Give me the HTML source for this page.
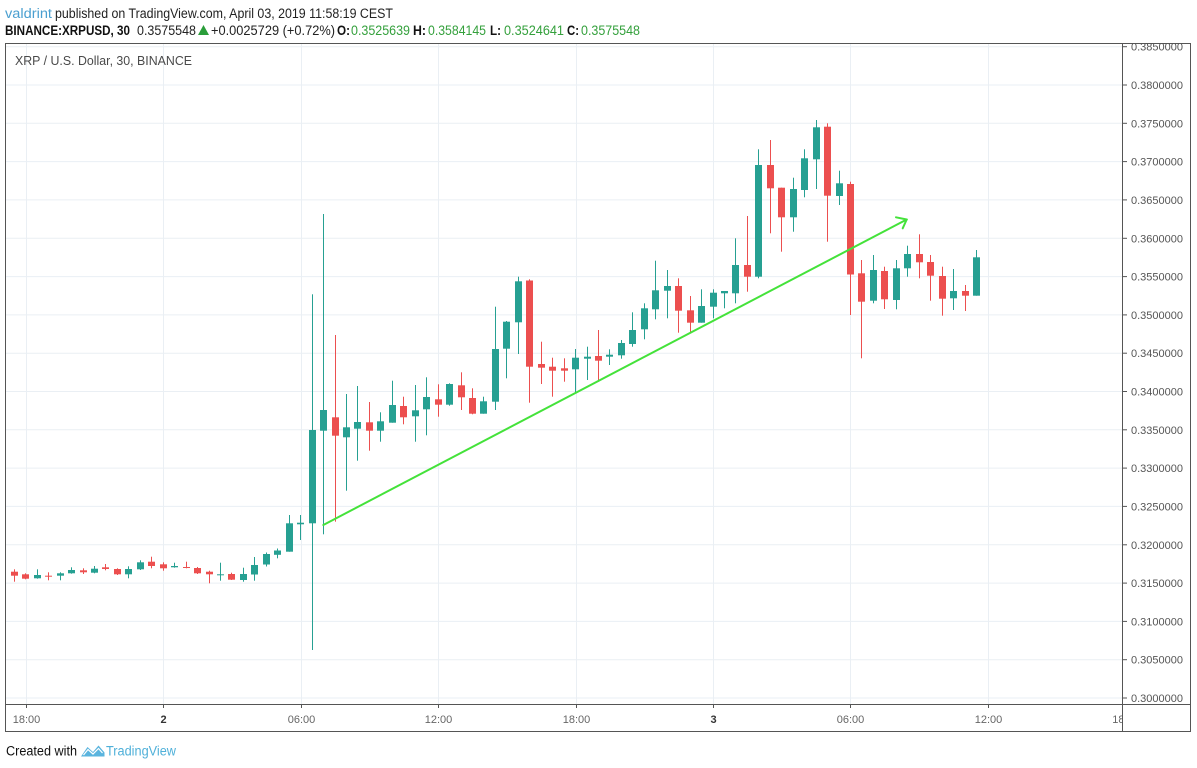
<!DOCTYPE html>
<html><head><meta charset="utf-8"><style>
html,body{margin:0;padding:0;background:#fff;}
svg{display:block;font-family:"Liberation Sans",sans-serif;}
</style></head><body>
<svg width="1197" height="768" viewBox="0 0 1197 768" xmlns="http://www.w3.org/2000/svg">
<rect width="1197" height="768" fill="#fff"/>
<!-- header -->
<g font-size="13.5">
<text x="5" y="18" fill="#4a9fd0" textLength="47" lengthAdjust="spacingAndGlyphs">valdrint</text>
<text x="55" y="18" fill="#222" textLength="338" lengthAdjust="spacingAndGlyphs">published on TradingView.com, April 03, 2019 11:58:19 CEST</text>
<text x="5" y="35" fill="#111" font-weight="bold" textLength="125" lengthAdjust="spacingAndGlyphs">BINANCE:XRPUSD, 30</text>
<text x="137" y="35" fill="#222" textLength="59" lengthAdjust="spacingAndGlyphs">0.3575548</text>
<polygon points="198,35 209,35 203.5,25" fill="#2a9d3a"/>
<text x="211" y="35" fill="#222" textLength="124" lengthAdjust="spacingAndGlyphs">+0.0025729 (+0.72%)</text>
<text x="337" y="35" fill="#111" font-weight="bold" textLength="13" lengthAdjust="spacingAndGlyphs">O:</text>
<text x="351" y="35" fill="#34a03c" textLength="59" lengthAdjust="spacingAndGlyphs">0.3525639</text>
<text x="413" y="35" fill="#111" font-weight="bold" textLength="13" lengthAdjust="spacingAndGlyphs">H:</text>
<text x="428" y="35" fill="#34a03c" textLength="58" lengthAdjust="spacingAndGlyphs">0.3584145</text>
<text x="490" y="35" fill="#111" font-weight="bold" textLength="11" lengthAdjust="spacingAndGlyphs">L:</text>
<text x="504" y="35" fill="#34a03c" textLength="60" lengthAdjust="spacingAndGlyphs">0.3524641</text>
<text x="567" y="35" fill="#111" font-weight="bold" textLength="12" lengthAdjust="spacingAndGlyphs">C:</text>
<text x="581" y="35" fill="#34a03c" textLength="59" lengthAdjust="spacingAndGlyphs">0.3575548</text>
</g>
<!-- grid -->
<g stroke="#eaeff4" stroke-width="1">
<line x1="6" x2="1122" y1="46.7" y2="46.7"/>
<line x1="6" x2="1122" y1="85" y2="85"/>
<line x1="6" x2="1122" y1="123.3" y2="123.3"/>
<line x1="6" x2="1122" y1="161.6" y2="161.6"/>
<line x1="6" x2="1122" y1="199.9" y2="199.9"/>
<line x1="6" x2="1122" y1="238.3" y2="238.3"/>
<line x1="6" x2="1122" y1="276.6" y2="276.6"/>
<line x1="6" x2="1122" y1="314.9" y2="314.9"/>
<line x1="6" x2="1122" y1="353.2" y2="353.2"/>
<line x1="6" x2="1122" y1="391.5" y2="391.5"/>
<line x1="6" x2="1122" y1="429.8" y2="429.8"/>
<line x1="6" x2="1122" y1="468.1" y2="468.1"/>
<line x1="6" x2="1122" y1="506.4" y2="506.4"/>
<line x1="6" x2="1122" y1="544.8" y2="544.8"/>
<line x1="6" x2="1122" y1="583.1" y2="583.1"/>
<line x1="6" x2="1122" y1="621.4" y2="621.4"/>
<line x1="6" x2="1122" y1="659.7" y2="659.7"/>
<line x1="6" x2="1122" y1="698" y2="698"/>
<line x1="26.5" x2="26.5" y1="44" y2="704"/>
<line x1="163.5" x2="163.5" y1="44" y2="704"/>
<line x1="301.5" x2="301.5" y1="44" y2="704"/>
<line x1="438.5" x2="438.5" y1="44" y2="704"/>
<line x1="576.5" x2="576.5" y1="44" y2="704"/>
<line x1="713.5" x2="713.5" y1="44" y2="704"/>
<line x1="850.5" x2="850.5" y1="44" y2="704"/>
<line x1="988.5" x2="988.5" y1="44" y2="704"/>
</g>
<!-- legend -->
<text x="15" y="65" font-size="12.5" fill="#4a4a4a" textLength="177" lengthAdjust="spacingAndGlyphs">XRP / U.S. Dollar, 30, BINANCE</text>
<!-- green candles -->
<g fill="#26a092">
<rect x="34" y="575" width="7" height="3.3"/><rect x="37" y="569.3" width="1" height="9.4"/>
<rect x="57" y="573.3" width="7" height="2.4"/><rect x="60" y="572.3" width="1" height="8"/>
<rect x="68" y="570" width="7" height="3.3"/><rect x="71" y="567.3" width="1" height="6.4"/>
<rect x="91" y="568.7" width="7" height="4"/><rect x="94" y="566" width="1" height="7.3"/>
<rect x="125" y="569" width="7" height="5.3"/><rect x="128" y="566.3" width="1" height="12"/>
<rect x="137" y="562.3" width="7" height="7"/><rect x="140" y="560.3" width="1" height="9.7"/>
<rect x="171" y="566" width="7" height="1.3"/><rect x="174" y="562.7" width="1" height="5"/>
<rect x="217" y="574.3" width="7" height="1"/><rect x="220" y="562.7" width="1" height="18"/>
<rect x="240" y="574" width="7" height="6"/><rect x="243" y="567.7" width="1" height="14"/>
<rect x="251" y="565" width="7" height="9.5"/><rect x="254" y="557" width="1" height="23.7"/>
<rect x="263" y="554" width="7" height="10.5"/><rect x="266" y="552.5" width="1" height="14"/>
<rect x="274" y="550.5" width="7" height="4.3"/><rect x="277" y="548.5" width="1" height="9.8"/>
<rect x="286" y="523.3" width="7" height="28.4"/><rect x="289" y="515" width="1" height="36.7"/>
<rect x="297" y="522.7" width="7" height="1.6"/><rect x="300" y="515" width="1" height="25"/>
<rect x="309" y="430" width="7" height="93.3"/><rect x="312" y="294.3" width="1" height="355.7"/>
<rect x="320" y="410" width="7" height="20.7"/><rect x="323" y="214" width="1" height="320.3"/>
<rect x="343" y="427.3" width="7" height="10"/><rect x="346" y="394" width="1" height="96.7"/>
<rect x="354" y="422" width="7" height="6.7"/><rect x="357" y="386" width="1" height="74.7"/>
<rect x="377" y="421.3" width="7" height="9.4"/><rect x="380" y="412.3" width="1" height="29.4"/>
<rect x="389" y="405" width="7" height="17.7"/><rect x="392" y="380.7" width="1" height="42"/>
<rect x="412" y="410.3" width="7" height="6"/><rect x="415" y="385" width="1" height="56.7"/>
<rect x="423" y="397" width="7" height="12.3"/><rect x="426" y="377.3" width="1" height="58"/>
<rect x="446" y="384" width="7" height="20.7"/><rect x="449" y="383.3" width="1" height="22.4"/>
<rect x="480" y="401.3" width="7" height="12.4"/><rect x="483" y="396.7" width="1" height="17"/>
<rect x="492" y="349" width="7" height="52.7"/><rect x="495" y="306.7" width="1" height="103.3"/>
<rect x="503" y="321.7" width="7" height="27"/><rect x="506" y="321" width="1" height="57.3"/>
<rect x="515" y="281.3" width="7" height="41"/><rect x="518" y="276.7" width="1" height="77.3"/>
<rect x="572" y="357.7" width="7" height="11.6"/><rect x="575" y="349" width="1" height="43.7"/>
<rect x="584" y="356.7" width="7" height="2"/><rect x="587" y="346.7" width="1" height="33.3"/>
<rect x="606" y="354.7" width="7" height="2"/><rect x="609" y="349.3" width="1" height="15.7"/>
<rect x="618" y="343" width="7" height="12.3"/><rect x="621" y="340" width="1" height="18.7"/>
<rect x="629" y="330" width="7" height="14"/><rect x="632" y="312.3" width="1" height="34.4"/>
<rect x="641" y="308.3" width="7" height="21"/><rect x="644" y="303.3" width="1" height="36"/>
<rect x="652" y="290.3" width="7" height="19"/><rect x="655" y="260.7" width="1" height="58.6"/>
<rect x="664" y="286" width="7" height="4.7"/><rect x="667" y="270" width="1" height="48.3"/>
<rect x="698" y="306" width="7" height="16.7"/><rect x="701" y="289.3" width="1" height="33.4"/>
<rect x="710" y="292.7" width="7" height="14"/><rect x="713" y="289.3" width="1" height="29"/>
<rect x="721" y="291" width="7" height="2.3"/><rect x="724" y="291" width="1" height="17.3"/>
<rect x="732" y="265" width="7" height="28.3"/><rect x="735" y="238.3" width="1" height="65"/>
<rect x="755" y="165" width="7" height="111.7"/><rect x="758" y="149.3" width="1" height="129"/>
<rect x="790" y="189" width="7" height="28.3"/><rect x="793" y="177.7" width="1" height="54"/>
<rect x="801" y="158.3" width="7" height="31.7"/><rect x="804" y="149.3" width="1" height="48"/>
<rect x="813" y="127.3" width="7" height="32"/><rect x="816" y="120" width="1" height="69"/>
<rect x="836" y="183.3" width="7" height="12.7"/><rect x="839" y="170.7" width="1" height="34.3"/>
<rect x="870" y="270" width="7" height="30.7"/><rect x="873" y="255" width="1" height="48.3"/>
<rect x="893" y="268.3" width="7" height="31.7"/><rect x="896" y="260" width="1" height="49.3"/>
<rect x="904" y="254" width="7" height="14.3"/><rect x="907" y="245.7" width="1" height="31"/>
<rect x="950" y="291" width="7" height="7.3"/><rect x="953" y="269" width="1" height="41"/>
<rect x="973" y="257.3" width="7" height="38.4"/><rect x="976" y="250" width="1" height="45.7"/>
</g>
<!-- red candles -->
<g fill="#ec4f4f">
<rect x="11" y="571.7" width="7" height="4"/><rect x="14" y="569.3" width="1" height="12.4"/>
<rect x="22" y="574.3" width="7" height="4.4"/><rect x="25" y="573.3" width="1" height="6"/>
<rect x="45" y="575.7" width="7" height="1"/><rect x="48" y="572.3" width="1" height="8"/>
<rect x="80" y="570.3" width="7" height="2"/><rect x="83" y="568.3" width="1" height="5.7"/>
<rect x="102" y="567.3" width="7" height="1.7"/><rect x="105" y="564" width="1" height="6.3"/>
<rect x="114" y="569" width="7" height="5.3"/><rect x="117" y="568.3" width="1" height="6.7"/>
<rect x="148" y="561.7" width="7" height="4.3"/><rect x="151" y="556.7" width="1" height="11.6"/>
<rect x="160" y="564.3" width="7" height="4"/><rect x="163" y="562.3" width="1" height="8.4"/>
<rect x="183" y="567" width="7" height="1"/><rect x="186" y="561.7" width="1" height="6.6"/>
<rect x="194" y="568" width="7" height="5.3"/><rect x="197" y="567" width="1" height="7"/>
<rect x="206" y="571.7" width="7" height="2.6"/><rect x="209" y="570.7" width="1" height="12.6"/>
<rect x="228" y="574" width="7" height="5.7"/><rect x="231" y="572.7" width="1" height="7.3"/>
<rect x="332" y="417.3" width="7" height="18.4"/><rect x="335" y="335" width="1" height="186.7"/>
<rect x="366" y="422.3" width="7" height="8.4"/><rect x="369" y="402" width="1" height="48.7"/>
<rect x="400" y="406" width="7" height="11.3"/><rect x="403" y="396.7" width="1" height="27.6"/>
<rect x="435" y="399.3" width="7" height="5.4"/><rect x="438" y="384.3" width="1" height="32.4"/>
<rect x="458" y="385.3" width="7" height="12"/><rect x="461" y="372.3" width="1" height="37.7"/>
<rect x="469" y="398" width="7" height="15.7"/><rect x="472" y="388.3" width="1" height="26"/>
<rect x="526" y="280.5" width="7" height="86.2"/><rect x="529" y="279.3" width="1" height="123.4"/>
<rect x="538" y="364" width="7" height="3.7"/><rect x="541" y="341.7" width="1" height="42.3"/>
<rect x="549" y="366.7" width="7" height="4"/><rect x="552" y="357.7" width="1" height="39"/>
<rect x="561" y="368.3" width="7" height="2.4"/><rect x="564" y="358.3" width="1" height="23.4"/>
<rect x="595" y="356" width="7" height="4.7"/><rect x="598" y="330" width="1" height="51.7"/>
<rect x="675" y="286" width="7" height="24.7"/><rect x="678" y="278.3" width="1" height="54.4"/>
<rect x="687" y="310.3" width="7" height="12.4"/><rect x="690" y="296" width="1" height="36.7"/>
<rect x="744" y="265" width="7" height="11.7"/><rect x="747" y="216" width="1" height="75.7"/>
<rect x="767" y="165" width="7" height="23.3"/><rect x="770" y="140" width="1" height="93.3"/>
<rect x="778" y="187.7" width="7" height="29.6"/><rect x="781" y="187.7" width="1" height="64"/>
<rect x="824" y="126.7" width="7" height="69"/><rect x="827" y="123.3" width="1" height="118.4"/>
<rect x="847" y="184" width="7" height="90.5"/><rect x="850" y="181.7" width="1" height="133.3"/>
<rect x="858" y="273.3" width="7" height="28.4"/><rect x="861" y="260" width="1" height="98.3"/>
<rect x="881" y="271" width="7" height="28.3"/><rect x="884" y="266.7" width="1" height="42.3"/>
<rect x="916" y="254" width="7" height="8.3"/><rect x="919" y="234.3" width="1" height="44"/>
<rect x="927" y="262" width="7" height="13.7"/><rect x="930" y="255" width="1" height="45.7"/>
<rect x="939" y="276" width="7" height="22.7"/><rect x="942" y="266.7" width="1" height="49"/>
<rect x="962" y="291" width="7" height="4.7"/><rect x="965" y="285" width="1" height="26"/>
</g>
<!-- trend arrow -->
<g stroke="#44e23a" stroke-width="2" fill="none" stroke-linecap="round">
<line x1="323.3" y1="525" x2="906.7" y2="219.5"/>
<line x1="906.7" y1="219.5" x2="896" y2="217.3"/>
<line x1="906.7" y1="219.5" x2="902.7" y2="228.3"/>
</g>
<!-- frame -->
<g stroke="#555" stroke-width="1" fill="none">
<rect x="5.5" y="43.5" width="1185" height="688"/>
<line x1="1122.5" y1="43" x2="1122.5" y2="732"/>
<line x1="5" y1="704.5" x2="1191" y2="704.5"/>
</g>
<!-- price axis -->
<clipPath id="pc"><rect x="1123" y="44" width="67" height="660"/></clipPath>
<g clip-path="url(#pc)">
<g stroke="#555" stroke-width="1">
<line x1="1123" x2="1127" y1="46.7" y2="46.7"/><line x1="1123" x2="1127" y1="85" y2="85"/>
<line x1="1123" x2="1127" y1="123.3" y2="123.3"/><line x1="1123" x2="1127" y1="161.6" y2="161.6"/>
<line x1="1123" x2="1127" y1="199.9" y2="199.9"/><line x1="1123" x2="1127" y1="238.3" y2="238.3"/>
<line x1="1123" x2="1127" y1="276.6" y2="276.6"/><line x1="1123" x2="1127" y1="314.9" y2="314.9"/>
<line x1="1123" x2="1127" y1="353.2" y2="353.2"/><line x1="1123" x2="1127" y1="391.5" y2="391.5"/>
<line x1="1123" x2="1127" y1="429.8" y2="429.8"/><line x1="1123" x2="1127" y1="468.1" y2="468.1"/>
<line x1="1123" x2="1127" y1="506.4" y2="506.4"/><line x1="1123" x2="1127" y1="544.8" y2="544.8"/>
<line x1="1123" x2="1127" y1="583.1" y2="583.1"/><line x1="1123" x2="1127" y1="621.4" y2="621.4"/>
<line x1="1123" x2="1127" y1="659.7" y2="659.7"/><line x1="1123" x2="1127" y1="698" y2="698"/>
</g>
<g font-size="11" fill="#555">
<text x="1131" y="50.7">0.3850000</text>
<text x="1131" y="89">0.3800000</text>
<text x="1131" y="127.3">0.3750000</text>
<text x="1131" y="165.6">0.3700000</text>
<text x="1131" y="203.9">0.3650000</text>
<text x="1131" y="242.3">0.3600000</text>
<text x="1131" y="280.6">0.3550000</text>
<text x="1131" y="318.9">0.3500000</text>
<text x="1131" y="357.2">0.3450000</text>
<text x="1131" y="395.5">0.3400000</text>
<text x="1131" y="433.8">0.3350000</text>
<text x="1131" y="472.1">0.3300000</text>
<text x="1131" y="510.4">0.3250000</text>
<text x="1131" y="548.8">0.3200000</text>
<text x="1131" y="587.1">0.3150000</text>
<text x="1131" y="625.4">0.3100000</text>
<text x="1131" y="663.7">0.3050000</text>
<text x="1131" y="702">0.3000000</text>
</g>
</g>
<!-- time axis -->
<clipPath id="tc"><rect x="6" y="705" width="1116" height="26"/></clipPath>
<g clip-path="url(#tc)">
<g stroke="#555" stroke-width="1">
<line x1="26.5" x2="26.5" y1="705" y2="708"/><line x1="163.5" x2="163.5" y1="705" y2="708"/>
<line x1="301.5" x2="301.5" y1="705" y2="708"/><line x1="438.5" x2="438.5" y1="705" y2="708"/>
<line x1="576.5" x2="576.5" y1="705" y2="708"/><line x1="713.5" x2="713.5" y1="705" y2="708"/>
<line x1="850.5" x2="850.5" y1="705" y2="708"/><line x1="988.5" x2="988.5" y1="705" y2="708"/>
</g>
<g font-size="11" fill="#666" text-anchor="middle">
<text x="26.5" y="723">18:00</text>
<text x="163.5" y="723" font-weight="bold" fill="#333">2</text>
<text x="301.5" y="723">06:00</text>
<text x="438.5" y="723">12:00</text>
<text x="576.5" y="723">18:00</text>
<text x="713.5" y="723" font-weight="bold" fill="#333">3</text>
<text x="850.5" y="723">06:00</text>
<text x="988.5" y="723">12:00</text>
<text x="1126" y="723">18:00</text>
</g>
</g>
<!-- footer -->
<text x="6" y="755.5" font-size="13.5" fill="#111" textLength="71" lengthAdjust="spacingAndGlyphs">Created with</text>
<path d="M81,756.5 L87.5,747 L93,752 L98.5,745.5 L104.5,752.5 L104.5,756.5 Z" fill="#5ab4de"/>
<path d="M83.5,755 L88,749.5 L93,754 L98.5,748.5 L102.5,753" stroke="#fff" stroke-width="1.2" fill="none"/>
<text x="106" y="755.5" font-size="13.5" fill="#4fb0d9" textLength="70" lengthAdjust="spacingAndGlyphs">TradingView</text>
</svg>
</body></html>
